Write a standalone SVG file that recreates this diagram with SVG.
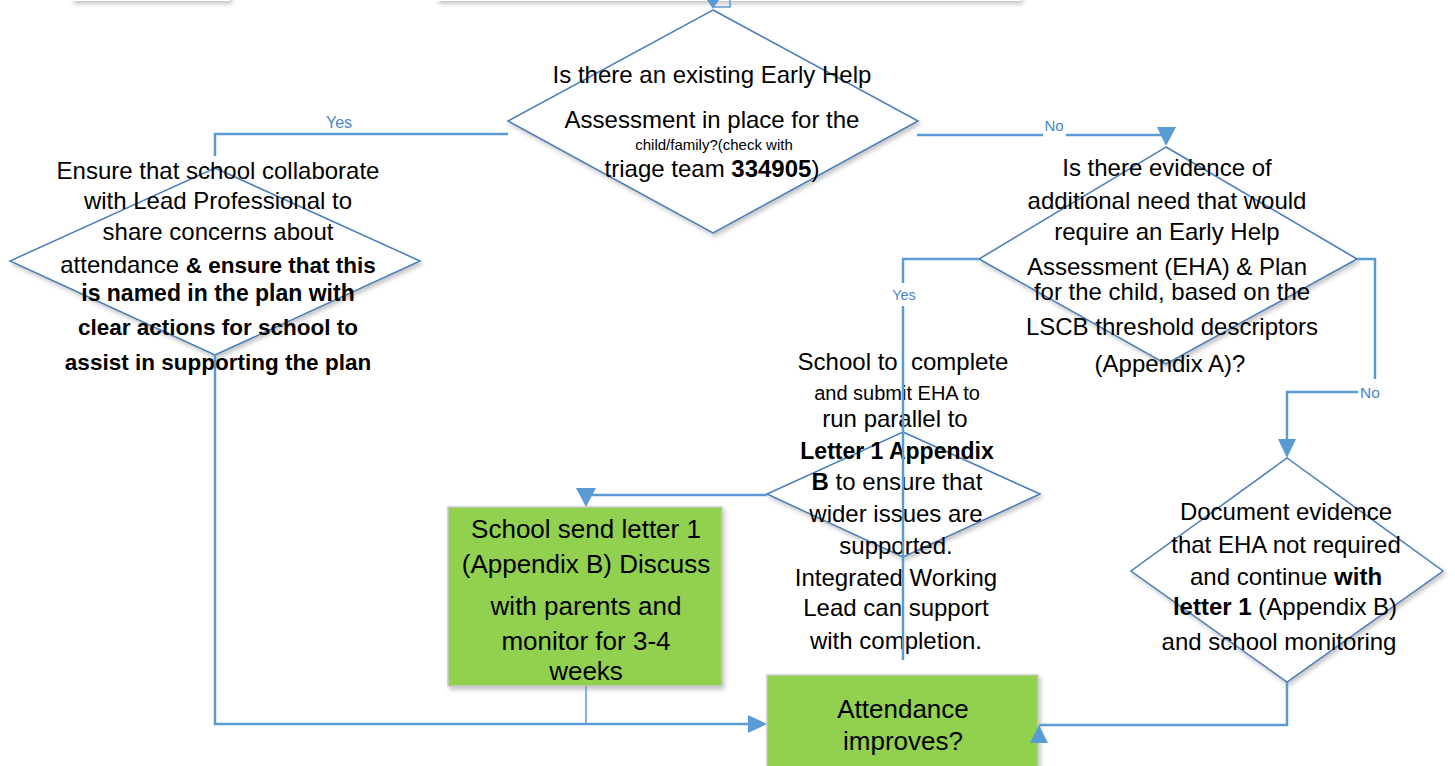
<svg xmlns="http://www.w3.org/2000/svg" width="1455" height="766" viewBox="0 0 1455 766">
<defs>
<filter id="sh" x="-10%" y="-10%" width="130%" height="130%">
<feDropShadow dx="2" dy="3" stdDeviation="2" flood-color="#808080" flood-opacity="0.45"/>
</filter>
</defs>
<style>
text{font-family:"Liberation Sans",Arial,sans-serif;fill:#000;}
.t{font-size:24px;text-anchor:middle;}
.b{font-weight:bold;}
.dia{fill:#fff;stroke:#4a7ebb;stroke-width:1.5;filter:url(#sh);}
.grn{fill:#92d050;stroke:#c9c9c9;stroke-width:1.5;filter:url(#sh);}
.top{fill:#fff;filter:url(#sh);}
.con{fill:none;stroke:#5b9bd5;stroke-width:2.5;}
.thin{fill:none;stroke:#5b9bd5;stroke-width:1.5;}
.ah{fill:#5b9bd5;}
.lbl{font-size:16px;fill:#4a86c8;text-anchor:middle;}
.lb{fill:#fff;}
</style>

<g id="top-box-left"><rect class="top" x="72" y="-40" width="158" height="41"/></g>
<g id="top-box-main"><rect class="top" x="437" y="-40" width="584" height="41"/></g>

<g id="d1">
<polygon class="dia" points="713,10 918,121 713,233 508,121"/>
<text class="t" x="712" y="83">Is there an existing Early Help</text>
<text class="t" x="712" y="128">Assessment in place for the</text>
<text class="t" x="714" y="150" style="font-size:15px">child/family?(check with</text>
<text class="t" x="712" y="177">triage team <tspan class="b">334905</tspan>)</text>
</g>

<g id="d2">
<polygon class="dia" points="215,168 420,261 215,355 10,261"/>
<text class="t" x="218" y="179">Ensure that school collaborate</text>
<text class="t" x="218" y="209">with Lead Professional to</text>
<text class="t" x="218" y="240">share concerns about</text>
<text class="t" x="218" y="273">attendance <tspan class="b" style="font-size:22.5px">&amp; ensure that this</tspan></text>
<text class="t b" x="218" y="301" style="font-size:23px">is named in the plan with</text>
<text class="t b" x="218" y="335" style="font-size:22.5px">clear actions for school to</text>
<text class="t b" x="218" y="370" style="font-size:22.5px">assist in supporting the plan</text>
</g>

<g id="d3">
<polygon class="dia" points="1166,147 1357,259 1166,364 979,259"/>
<text class="t" x="1167" y="176">Is there evidence of</text>
<text class="t" x="1167" y="209">additional need that would</text>
<text class="t" x="1167" y="240">require an Early Help</text>
<text class="t" x="1167" y="275">Assessment (EHA) &amp; Plan</text>
<text class="t" x="1172" y="300">for the child, based on the</text>
<text class="t" x="1172" y="335">LSCB threshold descriptors</text>
<text class="t" x="1170" y="372">(Appendix A)?</text>
</g>

<g id="d4">
<polygon class="dia" points="1287,458 1443,571 1287,682 1131,571"/>
<text class="t" x="1286" y="520">Document evidence</text>
<text class="t" x="1286" y="553">that EHA not required</text>
<text class="t" x="1286" y="585">and continue <tspan class="b">with</tspan></text>
<text class="t" x="1285" y="615"><tspan class="b">letter 1</tspan> (Appendix B)</text>
<text class="t" x="1279" y="650">and school monitoring</text>
</g>

<g id="d5">
<polygon class="dia" points="903,432 1040,494 903,557 767,494"/>
<text class="t" x="903" y="370" style="white-space:pre">School to  complete</text>
<text class="t" x="897" y="400" style="font-size:20px">and submit EHA to</text>
<text class="t" x="895" y="427">run parallel to</text>
<text class="t b" x="897" y="459" style="font-size:23px">Letter 1 Appendix</text>
<text class="t" x="897" y="490"><tspan class="b">B</tspan> to ensure that</text>
<text class="t" x="896" y="522">wider issues are</text>
<text class="t" x="896" y="554">supported.</text>
<text class="t" x="896" y="586">Integrated Working</text>
<text class="t" x="896" y="616">Lead can support</text>
<text class="t" x="896" y="649">with completion.</text>
</g>

<g id="letter1">
<rect class="grn" x="448" y="507" width="274" height="179"/>
<text class="t" x="586" y="538" style="font-size:26px">School send letter 1</text>
<text class="t" x="586" y="573" style="font-size:26px">(Appendix B) Discuss</text>
<text class="t" x="586" y="615" style="font-size:26px">with parents and</text>
<text class="t" x="586" y="650" style="font-size:26px">monitor for 3-4</text>
<text class="t" x="586" y="680" style="font-size:26px">weeks</text>
</g>

<g id="attendance">
<rect class="grn" x="767" y="675" width="271" height="100"/>
<text class="t" x="903" y="718" style="font-size:26px">Attendance</text>
<text class="t" x="903" y="750" style="font-size:26px">improves?</text>
</g>

<g id="connectors">
<polygon class="ah" points="707,0 719,0 713,9"/>
<path class="thin" d="M713,7 H730 V0"/>
<path class="con" d="M508,134 H215 V156"/>
<path class="con" d="M917,135 H1166"/>
<polygon class="ah" points="1157,127 1176,127 1166,146"/>
<path class="con" d="M979,259 H903 V660"/>
<path class="con" d="M1357,259 H1375 V392 H1287 V440"/>
<polygon class="ah" points="1278,439 1296,439 1287,458"/>
<path class="con" d="M767,495 H586"/>
<polygon class="ah" points="576,488 596,488 586,507"/>
<path class="con" d="M215,355 V724 H750"/>
<path class="thin" d="M586,686 V724"/>
<polygon class="ah" points="748,715 748,733 767,724"/>
<path class="con" d="M1287,682 V725 H1039"/>
<polygon class="ah" points="1039,725 1030,743 1048,743"/>
<text class="lbl" x="339" y="128">Yes</text>
<rect class="lb" x="1043" y="115" width="23" height="24"/>
<text class="lbl" x="1054" y="131" style="font-size:15px">No</text>
<rect class="lb" x="890" y="283" width="28" height="23"/>
<text class="lbl" x="904" y="300" style="font-size:14.5px">Yes</text>
<rect class="lb" x="1358" y="379" width="24" height="22"/>
<text class="lbl" x="1370" y="398" style="font-size:15.5px">No</text>
</g>
</svg>
